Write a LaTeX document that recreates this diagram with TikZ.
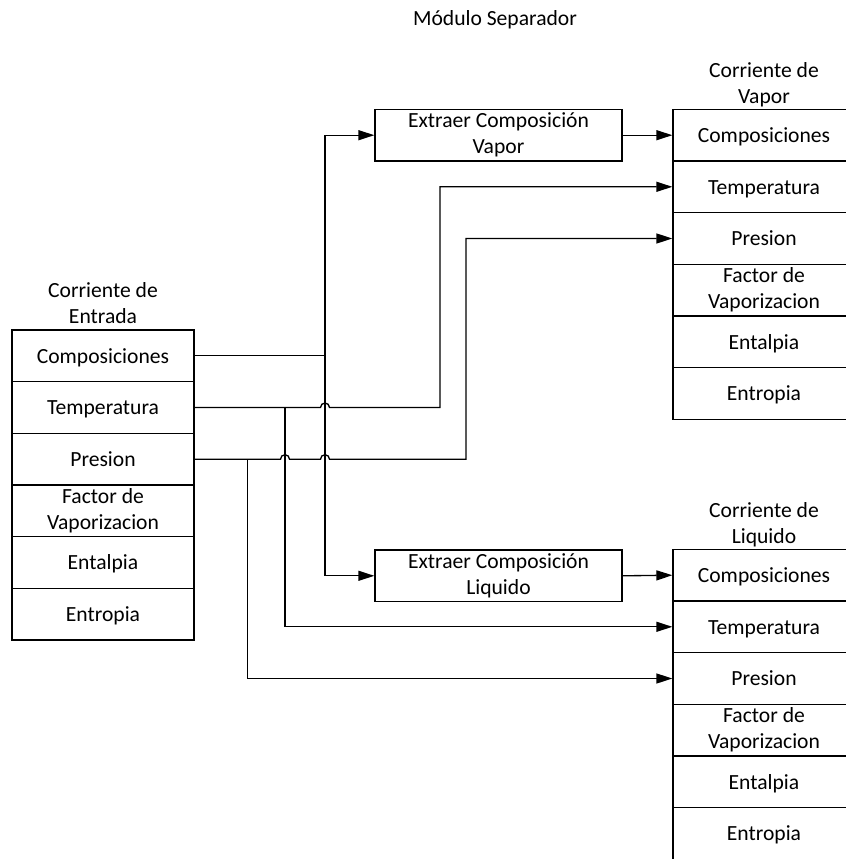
\documentclass[tikz,border=0pt]{standalone}
\usepackage{fontspec}
\setmainfont{Carlito}
\usetikzlibrary{arrows.meta}

% fixed depth for the last line of the stream headings
\newcommand{\hdrdepth}{\rule[-4.5pt]{0pt}{0pt}}

\begin{document}
\begin{tikzpicture}[x=0.75pt, y=-0.75pt,
  every node/.style={font=\fontsize{16.2pt}{19.5pt}\selectfont, text=black},
  cell/.style={draw, line width=1pt, minimum width=182*0.75pt, minimum height=51.67*0.75pt,
               inner sep=0pt, text height=12pt, text depth=0.8pt, anchor=center},
  cell2/.style={draw, line width=1pt, minimum width=182*0.75pt, minimum height=51.67*0.75pt,
                inner sep=0pt, align=center, anchor=center},
  procbox/.style={draw, line width=1pt, minimum width=247*0.75pt, minimum height=51.7*0.75pt,
                  inner sep=0pt, align=center},
  hdr/.style={align=center, anchor=south, inner sep=0pt},
  wire/.style={line width=1pt, draw=black},
  arrowwire/.style={wire, -{Triangle[length=12pt,width=7.5pt]}}
]
\useasboundingbox (0,0) rectangle (845,859);

% title
\node (title) at (495,20) {Módulo Separador};

% input stream
\node[hdr] (eh) at (103,330) {Corriente de\\Entrada\hdrdepth};
\node[cell]  (e1) at (103,355.8) {Composiciones};
\node[cell]  (e2) at (103,407.5) {Temperatura};
\node[cell]  (e3) at (103,459.2) {Presion};
\node[cell2] (e4) at (103,510.8) {Factor de\\Vaporizacion};
\node[cell]  (e5) at (103,562.5) {Entalpia};
\node[cell]  (e6) at (103,614.2) {Entropia};

% vapour stream
\node[hdr] (vh) at (764,109.3) {Corriente de\\Vapor\hdrdepth};
\node[cell]  (v1) at (764,135.2) {Composiciones};
\node[cell]  (v2) at (764,186.8) {Temperatura};
\node[cell]  (v3) at (764,238.5) {Presion};
\node[cell2] (v4) at (764,290.2) {Factor de\\Vaporizacion};
\node[cell]  (v5) at (764,341.8) {Entalpia};
\node[cell]  (v6) at (764,393.5) {Entropia};

% liquid stream
\node[hdr] (lh) at (764,549.3) {Corriente de\\Liquido\hdrdepth};
\node[cell]  (l1) at (764,575.2) {Composiciones};
\node[cell]  (l2) at (764,626.8) {Temperatura};
\node[cell]  (l3) at (764,678.5) {Presion};
\node[cell2] (l4) at (764,730.2) {Factor de\\Vaporizacion};
\node[cell]  (l5) at (764,781.8) {Entalpia};
\node[cell]  (l6) at (764,833.5) {Entropia};

% composition extraction blocks
\node[procbox] (xv) at (498.5,135.2) {Extraer Composición\\Vapor};
\node[procbox] (xl) at (498.5,575.8) {Extraer Composición\\Liquido};

% compositions: trunk feeding both extraction blocks
\coordinate (cj) at (325,355.8);
\draw[wire] (e1.east) -- (cj);
\draw[arrowwire] (cj) |- (xv.west);
\draw[arrowwire] (cj) |- (xl.west);
\draw[arrowwire] (xv.east) -- (v1.west);
\draw[arrowwire] (xl.east) -- (l1.west);

% temperature: hop over the composition trunk, up to the vapour stream
\coordinate (tv) at (440,407.5);
\coordinate (tj) at (285,407.5);
\draw[arrowwire] (e2.east) -- (320.5,407.5)
  arc[start angle=180, end angle=0, radius=3.375pt] -- (tv) |- (v2.west);
\draw[arrowwire] (tj) |- (l2.west);

% pressure: hops over the temperature branch and the composition trunk
\coordinate (pv) at (466,459.2);
\coordinate (pj) at (247.5,459.2);
\draw[arrowwire] (e3.east) -- (280.5,459.2)
  arc[start angle=180, end angle=0, radius=3.375pt] -- (320.5,459.2)
  arc[start angle=180, end angle=0, radius=3.375pt] -- (pv) |- (v3.west);
\draw[arrowwire] (pj) |- (l3.west);

\end{tikzpicture}
\end{document}
